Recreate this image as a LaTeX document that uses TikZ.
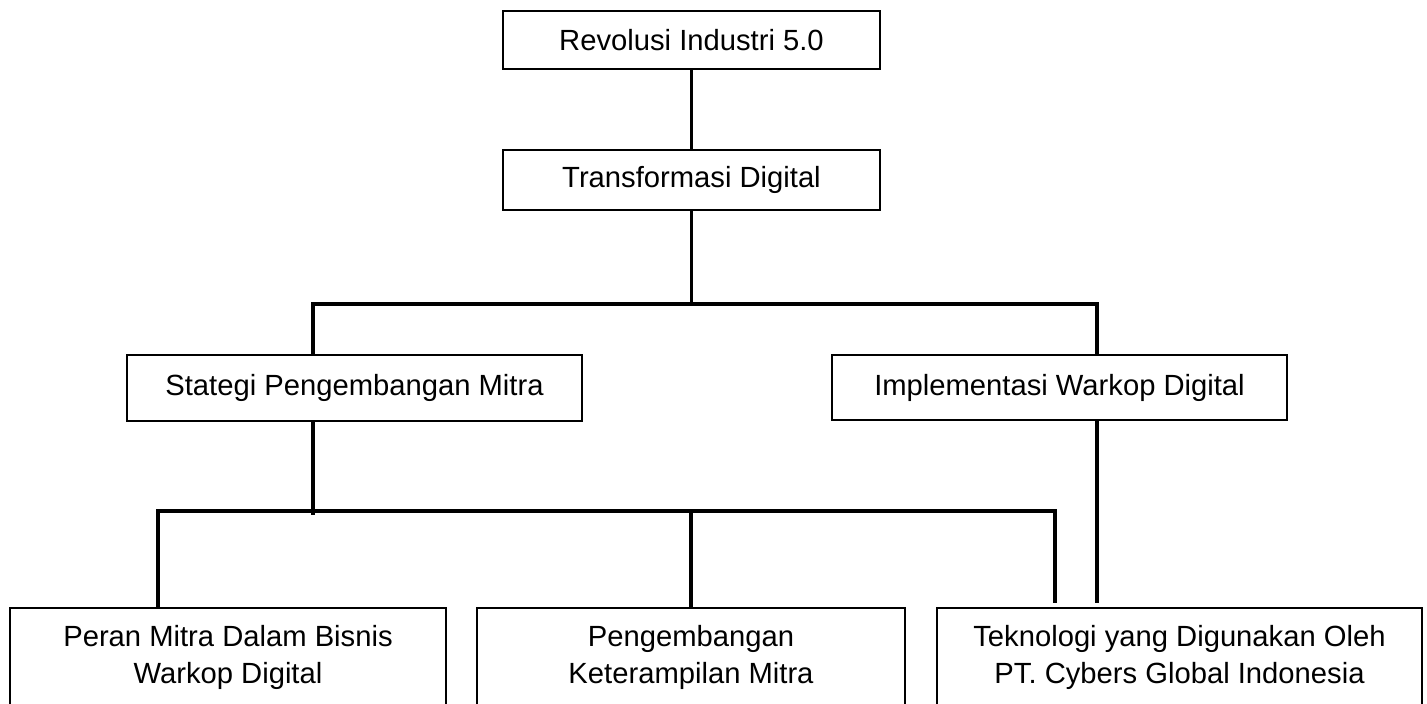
\documentclass[tikz,border=0pt]{standalone}
\usepackage{fontspec}
\setmainfont{Liberation Sans}
\usepackage{tikz}

\begin{document}
\begin{tikzpicture}[x=0.5pt,y=-0.5pt,
	box/.style={shape=rectangle,draw=black,line width=1.2pt,inner sep=0pt,font=\fontsize{14.6}{18.5}\selectfont,align=center},
	leaf/.style={box,anchor=north,inner ysep=8.5pt,text depth=10pt},
	conn/.style={draw=black,line width=1.6pt}]
	\useasboundingbox (0,0) rectangle (1427,704);

	\node [box,minimum width=188.5pt,minimum height=29pt] (rev) at (691.5,40) {Revolusi Industri 5.0};
	\node [box,minimum width=188.5pt,minimum height=30pt] (trans) at (691.5,180) {Transformasi Digital};
	\node [box,minimum width=227.5pt,minimum height=33pt] (strat) at (354.5,388) {Stategi Pengembangan Mitra};
	\node [box,minimum width=227.5pt,minimum height=32.5pt] (impl) at (1059.5,387.5) {Implementasi Warkop Digital};
	\node [leaf,minimum width=218pt] (peran) at (228,607) {Peran Mitra Dalam Bisnis\\Warkop Digital};
	\node [leaf,minimum width=214pt] (peng) at (691,607) {Pengembangan\\Keterampilan Mitra};
	\node [leaf,minimum width=242.5pt] (tekno) at (1179.5,607) {Teknologi yang Digunakan Oleh\\PT. Cybers Global Indonesia};

	\coordinate (busL) at (313,304);
	\coordinate (busR) at (1097,304);
	\coordinate (subL) at (158,511);
	\coordinate (subR) at (1055,511);
	\coordinate (subM) at (313,515);

	\path [conn] (rev) edge (trans);
	\draw [conn] (trans.south) -- (trans.south |- busL);
	\draw [conn] (strat.north -| busL) |- (busR) -- (impl.north -| busR);
	\draw [conn] (strat.south -| subM) -- (subM);
	\draw [conn] (peran.north -| subL) |- (subR) -- ([yshift=2pt]tekno.north -| subR);
	\draw [conn] (peng.north) -- (peng.north |- subL);
	\draw [conn] (impl.south -| busR) -- ([yshift=2pt]tekno.north -| busR);
\end{tikzpicture}
\end{document}
